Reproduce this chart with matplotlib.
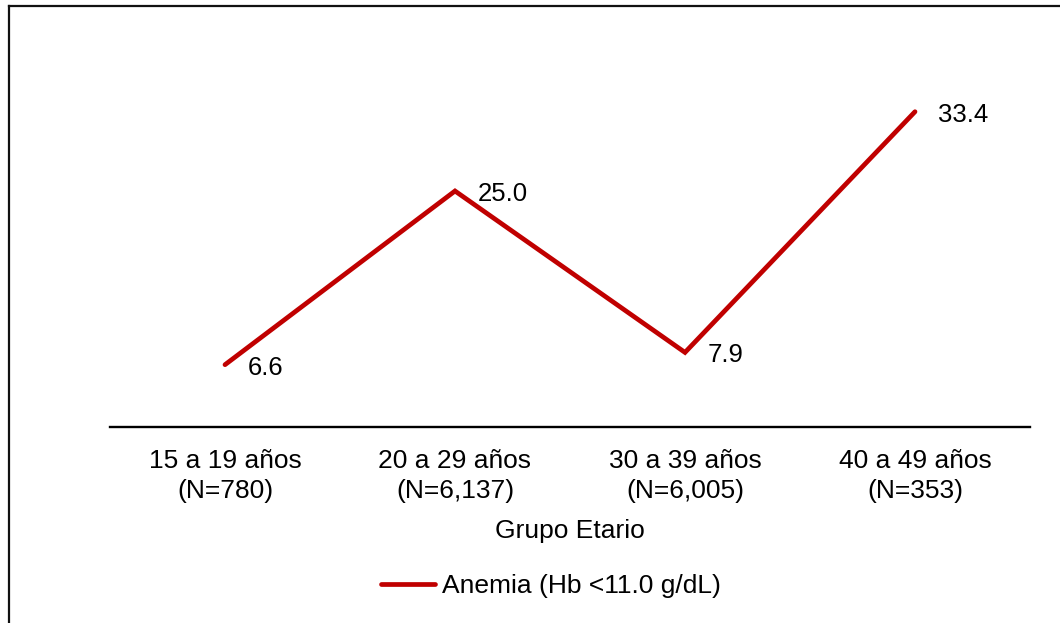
import matplotlib
matplotlib.use("Agg")
import matplotlib.pyplot as plt
from matplotlib.lines import Line2D

# Data
categories = ["15 a 19 años\n(N=780)", "20 a 29 años\n(N=6,137)",
              "30 a 39 años\n(N=6,005)", "40 a 49 años\n(N=353)"]
values = [6.6, 25.0, 7.9, 33.4]
series_name = "Anemia (Hb <11.0 g/dL)"
x_title = "Grupo Etario"

plt.rcParams['font.family'] = ['Liberation Sans', 'DejaVu Sans']

W, H = 1060, 623
fig = plt.figure(figsize=(W / 100, H / 100), dpi=100)
ax = fig.add_axes([110 / W, (H - 427) / H, 920 / W, (427 - 49.4) / H])

x = list(range(len(values)))
ax.plot(x, values, color='#C00000', linewidth=3.4,
        solid_capstyle='round', solid_joinstyle='miter', label=series_name)

for xi, v in zip(x, values):
    ax.annotate(f"{v:.1f}", (xi, v), xytext=(16.5, -7.2), textcoords='offset points',
                ha='left', va='baseline', fontsize=18.5, color='black')

ax.set_xlim(-0.5, len(values) - 0.5)
ax.set_ylim(0, 40)
ax.set_yticks([])
ax.set_xticks(x)
ax.set_xticklabels(categories, fontsize=19, linespacing=1.33)
ax.tick_params(axis='x', length=0, pad=16)
for s in ['top', 'right', 'left']:
    ax.spines[s].set_visible(False)
ax.spines['bottom'].set_linewidth(1.7)
ax.spines['bottom'].set_color('black')
ax.set_xlabel(x_title, fontsize=19, labelpad=11)

leg = fig.legend(loc='center', bbox_to_anchor=(551 / W, 1 - 586 / H), frameon=False,
                 fontsize=19, handlelength=2.05, handletextpad=0.25)

# figure border (left and top visible)
fig.add_artist(Line2D([9 / W, 9 / W], [0, 1 - 5.5 / H], transform=fig.transFigure,
                      color='#111111', linewidth=1.6))
fig.add_artist(Line2D([9 / W, 1], [1 - 5.5 / H, 1 - 5.5 / H], transform=fig.transFigure,
                      color='#111111', linewidth=1.6))

fig.savefig("out.png", dpi=100)
